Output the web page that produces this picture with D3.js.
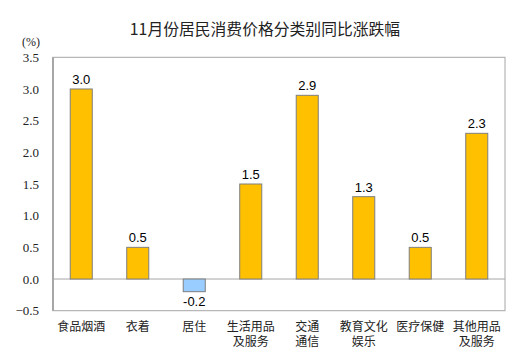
<!DOCTYPE html>
<html><head><meta charset="utf-8">
<script src="https://cdn.jsdelivr.net/npm/d3@7"></script>
<style>body{margin:0;background:#fff}svg{display:block}</style>
</head><body>
<script>
const categories = ["食品烟酒","衣着","居住","生活用品\n及服务","交通\n通信","教育文化\n娱乐","医疗保健","其他用品\n及服务"];
const values = [3.0, 0.5, -0.2, 1.5, 2.9, 1.3, 0.5, 2.3];
const yTicks = [-0.5, 0.0, 0.5, 1.0, 1.5, 2.0, 2.5, 3.0, 3.5];
const title = "11月份居民消费价格分类别同比涨跌幅";
const unit = "(%)";

const W = 520, H = 364;
const m = {left: 53, right: 505, top: 57.3, bottom: 310.7};
const svg = d3.select("body").append("svg").attr("width", W).attr("height", H);

const x = d3.scaleBand().domain(categories).range([m.left, m.right]).paddingInner(0.61).paddingOuter(0.305);
const y = d3.scaleLinear().domain([-0.5, 3.5]).range([m.bottom, m.top]);

svg.append("text").attr("x", 265).attr("y", 35).attr("text-anchor", "middle")
  .attr("font-family", "'Noto Sans CJK SC', sans-serif").attr("font-size", 15.8).attr("fill", "#222").text(title);
svg.append("text").attr("x", 31).attr("y", 46).attr("text-anchor", "middle")
  .attr("font-family", "'Liberation Serif', serif").attr("font-size", 12).attr("fill", "#222").text(unit);

// frame
svg.append("rect").attr("x", m.left).attr("y", m.top).attr("width", m.right - m.left).attr("height", m.bottom - m.top)
  .attr("fill", "none").attr("stroke", "#a6a6a6").attr("stroke-width", 1);
svg.append("line").attr("x1", m.left).attr("x2", m.left).attr("y1", m.top).attr("y2", m.bottom)
  .attr("stroke", "#a6a6a6").attr("stroke-width", 2);

// y axis
const ya = svg.append("g").attr("transform", `translate(${m.left},0)`)
  .call(d3.axisLeft(y).tickValues(yTicks).tickFormat(d3.format(".1f")).tickSize(0).tickPadding(14));
ya.select(".domain").remove();
ya.selectAll("text").attr("font-family", "'Liberation Serif', serif").attr("font-size", 13).attr("fill", "#222");

// zero line
svg.append("line").attr("x1", m.left).attr("x2", m.right).attr("y1", y(0)).attr("y2", y(0))
  .attr("stroke", "#a6a6a6").attr("stroke-width", 1);

// bars
svg.selectAll("rect.bar").data(values).join("rect").attr("class", "bar")
  .attr("x", (d, i) => x(categories[i]))
  .attr("width", x.bandwidth())
  .attr("y", d => y(Math.max(0, d)))
  .attr("height", d => Math.abs(y(d) - y(0)))
  .attr("fill", d => d < 0 ? "#99ccff" : "#ffc000")
  .attr("stroke", "#7f7f7f").attr("stroke-width", 1);

// value labels
svg.selectAll("text.val").data(values).join("text").attr("class", "val")
  .attr("x", (d, i) => x(categories[i]) + x.bandwidth() / 2)
  .attr("y", d => d < 0 ? y(d) + 14 : y(d) - 5)
  .attr("text-anchor", "middle")
  .attr("font-family", "'Liberation Sans', Arial, sans-serif").attr("font-size", 13).attr("fill", "#000")
  .text(d => d.toFixed(1));

// category labels (one text element per line)
const catLines = [];
categories.forEach(c => c.split("\n").forEach((l, i) => catLines.push({c, l, i})));
svg.selectAll("text.cat").data(catLines).join("text").attr("class", "cat")
  .attr("x", d => x(d.c) + x.bandwidth() / 2)
  .attr("y", d => 331 + d.i * 15)
  .attr("text-anchor", "middle")
  .attr("font-family", "'Liberation Sans', 'Noto Sans CJK SC', sans-serif").attr("font-size", 12).attr("fill", "#222")
  .text(d => d.l);
</script>
</body></html>
